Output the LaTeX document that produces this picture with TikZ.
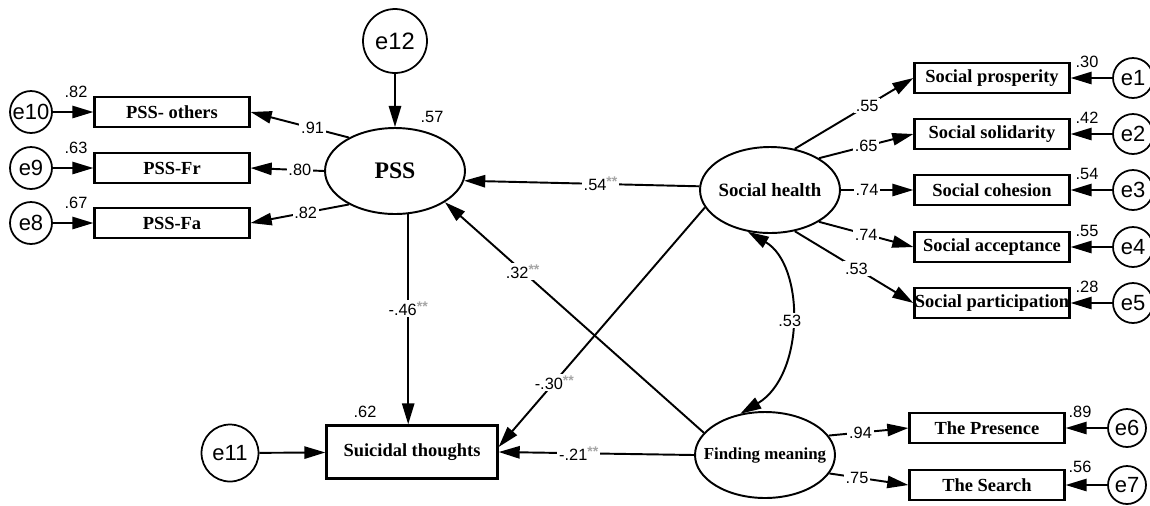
\documentclass[tikz,border=0pt]{standalone}
\usepackage{fontspec}
\setmainfont{Liberation Serif}
\setsansfont{Liberation Sans}
\usetikzlibrary{shapes.geometric,arrows.meta,calc}
\newcommand\sigmark{\raisebox{0.45ex}{\fontsize{8}{8}\selectfont\bfseries\textcolor{gray!70}{**}}}
\tikzset{
 obs/.style={draw, line width=1.3pt, minimum width=3.1cm, minimum height=0.6cm, inner sep=0pt, font=\bfseries\fontsize{10.5}{12}\selectfont},
 lat/.style={draw, ellipse, line width=1.1pt, minimum width=2.8cm, minimum height=1.72cm, inner sep=0pt},
 err/.style={draw, circle, line width=1pt, inner sep=0pt, font=\sffamily\fontsize{12.5}{14}\selectfont},
 arr/.style={line width=1.1pt, -{Triangle[length=12pt,width=7pt]}},
 cov/.style={line width=1.1pt, {Triangle[length=12pt,width=7pt]}-{Triangle[length=12pt,width=7pt]}},
 num/.style={font=\sffamily\fontsize{9.3}{10}\selectfont, inner sep=1pt},
 lbl/.style={num, fill=white},
}
\begin{document}
\begin{tikzpicture}[x=0.02cm,y=-0.02cm]
\useasboundingbox (0,0) rectangle (1150,505);
% latent variables
\node[lat] (pss) at (395,171) {\makebox[0pt]{\bfseries\fontsize{13.5}{14}\selectfont PSS}};
\node[lat] (sh) at (770,190) {\makebox[0pt]{\bfseries\fontsize{10.7}{12}\selectfont Social health}};
\node[lat] (fm) at (765,455) {\makebox[0pt]{\bfseries\fontsize{9.6}{11}\selectfont Finding meaning}};
% observed
\node[obs] (pssO) at (172,112) {PSS- others};
\node[obs] (pssFr) at (172,168) {PSS-Fr};
\node[obs] (pssFa) at (172,223) {PSS-Fa};
\node[obs, minimum width=3.42cm, minimum height=1.06cm] (st) at (412,452) {Suicidal thoughts};
\node[obs] (sp) at (992,78) {Social prosperity};
\node[obs] (ss) at (992,134) {Social solidarity};
\node[obs] (sc) at (992,190) {Social cohesion};
\node[obs] (sa) at (992,247) {Social acceptance};
\node[obs] (spa) at (992,303) {Social participation};
\node[obs] (tp) at (987,428) {The Presence};
\node[obs] (ts) at (987,485) {The Search};
% errors
\node[err, minimum size=1.28cm, font=\sffamily\fontsize{13.5}{14}\selectfont] (e12) at (395,41) {e12};
\node[err, minimum size=1.14cm] (e11) at (230,453) {e11};
\node[err, minimum size=0.84cm] (e10) at (31,112) {e10};
\node[err, minimum size=0.84cm] (e9) at (31,168) {e9};
\node[err, minimum size=0.84cm] (e8) at (31,223) {e8};
\node[err, minimum size=0.8cm] (e1) at (1133,78) {e1};
\node[err, minimum size=0.8cm] (e2) at (1133,134) {e2};
\node[err, minimum size=0.8cm] (e3) at (1133,190) {e3};
\node[err, minimum size=0.8cm] (e4) at (1133,247) {e4};
\node[err, minimum size=0.8cm] (e5) at (1133,303) {e5};
\node[err, minimum size=0.76cm] (e6) at (1127,428) {e6};
\node[err, minimum size=0.76cm] (e7) at (1127,485) {e7};
% variance labels
\node[num] (v82) at (76,92) {.82};
\node[num] (v63) at (76,148) {.63};
\node[num] (v67) at (76,203) {.67};
\node[num] (v57) at (432,117) {.57};
\node[num] (v62) at (365,412) {.62};
\node[num] (v30) at (1087,62) {.30};
\node[num] (v42) at (1087,118) {.42};
\node[num] (v54) at (1087,174) {.54};
\node[num] (v55) at (1087,231) {.55};
\node[num] (v28) at (1087,287) {.28};
\node[num] (v89) at (1080,412) {.89};
\node[num] (v56) at (1080,467) {.56};
% error arrows
\draw[arr] (e12) -- (pss);
\draw[arr] (e11) -- (st);
\draw[arr] (e10) -- (pssO);
\draw[arr] (e9) -- (pssFr);
\draw[arr] (e8) -- (pssFa);
\draw[arr] (e1) -- (sp);
\draw[arr] (e2) -- (ss);
\draw[arr] (e3) -- (sc);
\draw[arr] (e4) -- (sa);
\draw[arr] (e5) -- (spa);
\draw[arr] (e6) -- (tp);
\draw[arr] (e7) -- (ts);
% loadings
\draw[arr] (pss.144) -- (pssO.east) node[lbl,pos=.37]{.91};
\draw[arr] (pss.west) -- (pssFr.east) node[lbl,pos=.33]{.80};
\draw[arr] (pss.216) -- (pssFa.east) node[lbl,pos=.44]{.82};
\draw[arr] (sh.59) -- (sp.west) node[lbl,pos=.61]{.55};
\draw[arr] (sh.33) -- (ss.west) node[lbl,pos=.5]{.65};
\draw[arr] (sh.east) -- (sc.west) node[lbl,pos=.36]{.74};
\draw[arr] (sh.-33) -- (sa.west) node[lbl,pos=.5]{.74};
\draw[arr] (sh.-59) -- (spa.west) node[lbl,pos=.52]{.53};
\draw[arr] (fm.17) -- (tp.west) node[lbl,pos=.4]{.94};
\draw[arr] (fm.-16) -- (ts.west) node[lbl,pos=.35]{.75};
% structural paths
\draw[arr] (pss.-73) -- (pss.-73 |- st.north) node[lbl,pos=.45]{-.46\sigmark};
\draw[arr] (sh.177) -- (pss.-8) node[lbl,pos=.42]{.54\sigmark};
\draw[arr] (sh.195) -- ($(st.east)+(0,-5)$) node[lbl,pos=.73]{-.30\sigmark};
\draw[arr] (fm.160) -- (pss.-32) node[lbl,pos=.70]{.32\sigmark};
\draw[arr] (fm.west) -- (st.east) node[lbl,pos=.59]{-.21\sigmark};
% covariance
\draw[cov] (sh.242) .. controls (805,265) and (805,375) .. (fm.121) node[lbl,pos=.5]{.53};
\end{tikzpicture}
\end{document}
